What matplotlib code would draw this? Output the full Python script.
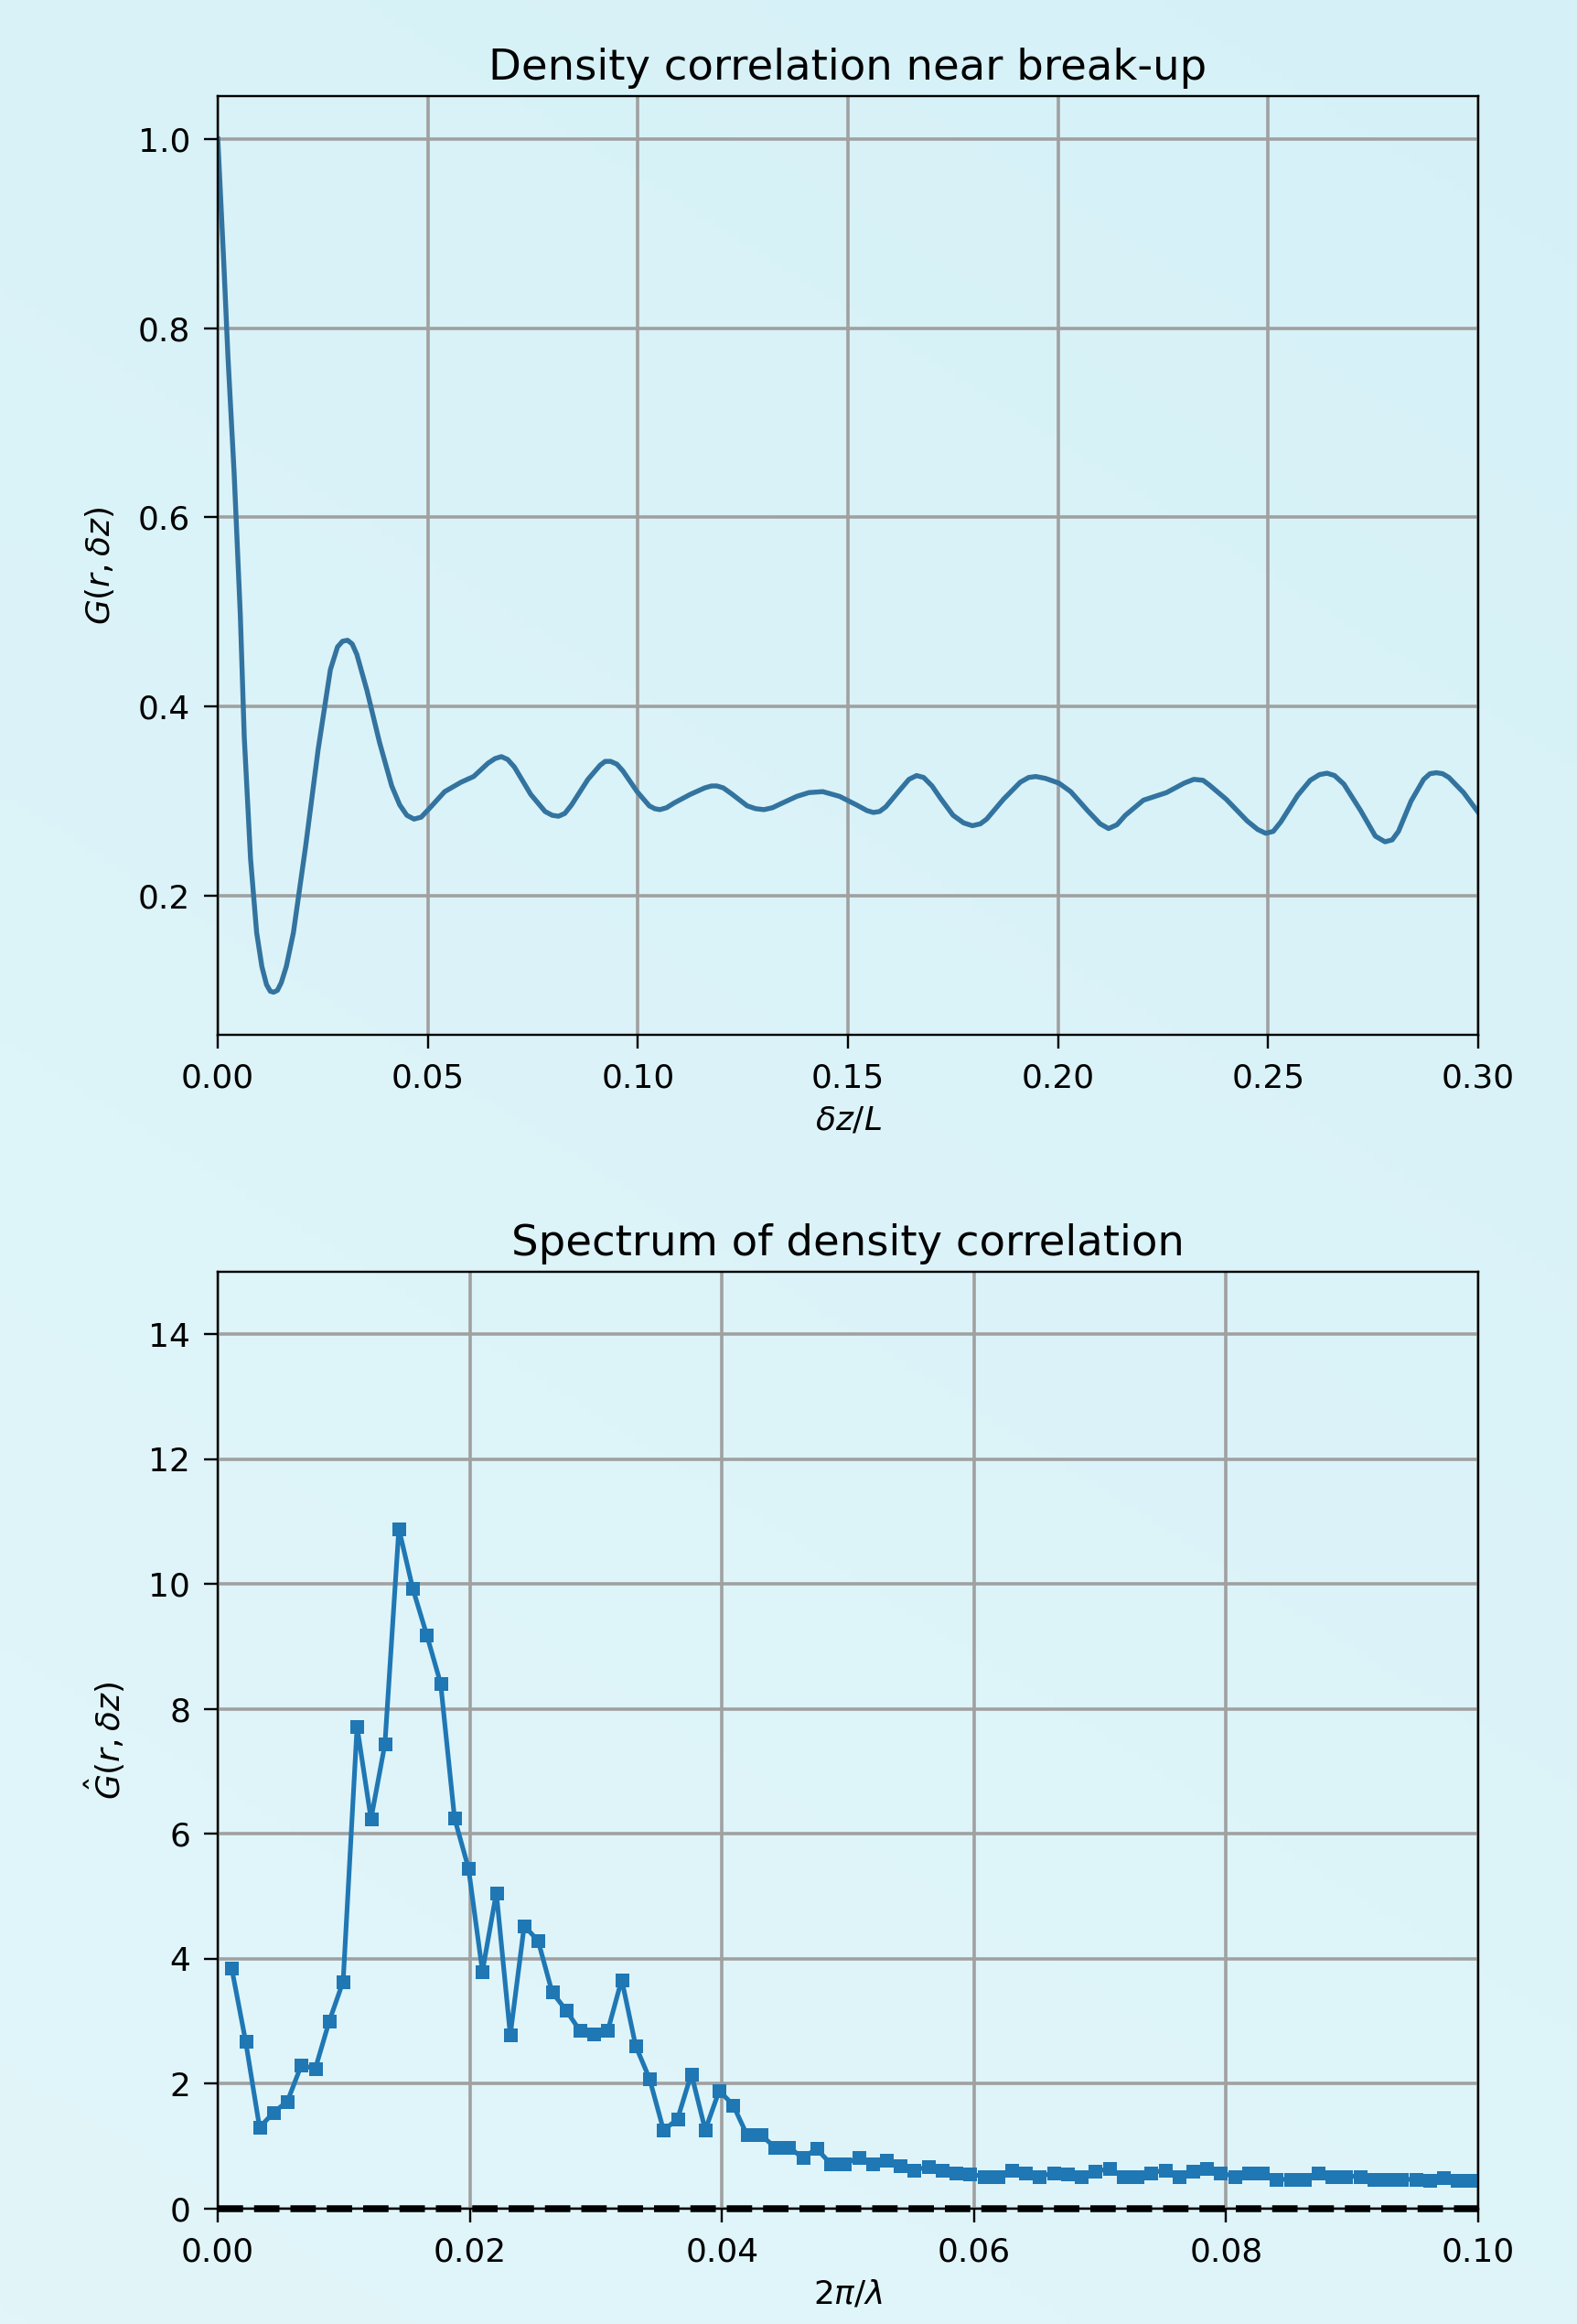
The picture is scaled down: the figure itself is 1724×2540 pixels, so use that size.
# Density correlation near break-up and its spectrum

import matplotlib
matplotlib.use("Agg")
import matplotlib.pyplot as plt
from matplotlib.colors import LinearSegmentedColormap
import numpy as np

# correlation G(r, dz)
dz = [0.0, 0.00146, 0.00243, 0.0039, 0.00536, 0.0063, 0.0078, 0.00925, 0.0105,
      0.0116, 0.0125, 0.0133, 0.0142, 0.0151, 0.0163, 0.018, 0.0209, 0.0239,
      0.0268, 0.0285, 0.0297, 0.0309, 0.0320, 0.0331, 0.0355, 0.0385, 0.0414,
      0.0433, 0.0450, 0.0467, 0.0484, 0.0501, 0.054, 0.0579, 0.0609, 0.0643,
      0.0660, 0.0675, 0.0690, 0.0706, 0.0745, 0.0779, 0.0796, 0.0811, 0.0826,
      0.0842, 0.0881, 0.091, 0.0922, 0.0935, 0.0950, 0.0964, 0.0998, 0.1027,
      0.1040, 0.1052, 0.1068, 0.1086, 0.1124, 0.1159, 0.1175, 0.1188, 0.1203,
      0.1222, 0.126, 0.128, 0.130, 0.1320, 0.1339, 0.1378, 0.1407, 0.144,
      0.148, 0.152, 0.1545, 0.156, 0.1575, 0.159, 0.162, 0.1645, 0.1663, 0.168,
      0.170, 0.172, 0.175, 0.1775, 0.1796, 0.1815, 0.183, 0.187, 0.191, 0.193,
      0.1947, 0.197, 0.2002, 0.203, 0.207, 0.2100, 0.212, 0.2140, 0.216,
      0.2203, 0.2258, 0.2300, 0.2323, 0.2345, 0.236, 0.240, 0.245, 0.2475,
      0.2494, 0.2512, 0.253, 0.257, 0.260, 0.2622, 0.264, 0.2658, 0.268, 0.272,
      0.2755, 0.2778, 0.2795, 0.281, 0.284, 0.287, 0.2885, 0.290, 0.2915,
      0.293, 0.2965, 0.300]
G = [1.0, 0.866, 0.769, 0.646, 0.497, 0.368, 0.239, 0.161, 0.125,
     0.106, 0.099, 0.098, 0.100, 0.108, 0.125, 0.161, 0.252, 0.355,
     0.439, 0.463, 0.469, 0.470, 0.466, 0.455, 0.417, 0.362, 0.316,
     0.296, 0.285, 0.281, 0.283, 0.291, 0.310, 0.320, 0.326, 0.340,
     0.345, 0.347, 0.344, 0.336, 0.307, 0.289, 0.285, 0.284, 0.287,
     0.296, 0.323, 0.338, 0.342, 0.342, 0.339, 0.332, 0.310, 0.295,
     0.292, 0.291, 0.293, 0.298, 0.307, 0.314, 0.316, 0.316, 0.314,
     0.308, 0.295, 0.292, 0.291, 0.293, 0.297, 0.305, 0.309, 0.310,
     0.305, 0.296, 0.290, 0.288, 0.289, 0.294, 0.310, 0.323, 0.327, 0.325,
     0.316, 0.303, 0.285, 0.277, 0.274, 0.276, 0.281, 0.302, 0.320, 0.325,
     0.326, 0.324, 0.319, 0.310, 0.290, 0.276, 0.271, 0.275, 0.285,
     0.301, 0.309, 0.319, 0.323, 0.322, 0.317, 0.302, 0.279, 0.270,
     0.266, 0.268, 0.278, 0.306, 0.322, 0.328, 0.3295, 0.327, 0.318, 0.290,
     0.263, 0.257, 0.259, 0.268, 0.300, 0.323, 0.329, 0.330, 0.329,
     0.325, 0.309, 0.288]

# spectrum: 90 wavenumbers, evenly spaced
k = np.arange(1, 91) * 0.001105
G_hat = [3.85, 2.68, 1.30, 1.54, 1.72, 2.30, 2.24, 3.00, 3.64, 7.72,
         6.24, 7.44, 10.89, 9.93, 9.19, 8.41, 6.25, 5.45, 3.80, 5.06,
         2.78, 4.53, 4.29, 3.47, 3.18, 2.85, 2.80, 2.85, 3.67, 2.61,
         2.08, 1.26, 1.43, 2.16, 1.26, 1.89, 1.66, 1.18, 1.18, 0.985,
         0.985, 0.815, 0.96, 0.72, 0.72, 0.815, 0.72, 0.77, 0.69, 0.62,
         0.67, 0.62, 0.57, 0.55, 0.52, 0.52, 0.62, 0.57, 0.52, 0.57,
         0.55, 0.52, 0.595, 0.64, 0.52, 0.52, 0.57, 0.62, 0.52, 0.595,
         0.64, 0.57, 0.52, 0.57, 0.57, 0.47, 0.47, 0.47, 0.57, 0.52,
         0.52, 0.52, 0.47, 0.47, 0.47, 0.47, 0.45, 0.50, 0.45, 0.45]

plt.rcParams.update({
    "font.size": 12,
    "xtick.major.size": 5, "ytick.major.size": 5,
    "xtick.major.pad": 5, "ytick.major.pad": 5,
})

fig = plt.figure(figsize=(1724 / 216, 2540 / 216), dpi=216)

# soft cyan backdrop behind both panels
bg = fig.add_axes([0, 0, 1, 1], zorder=-10)
cmap = LinearSegmentedColormap.from_list("bg", ["#d5f1f7", "#e2f6fa"])
grad = np.linspace(0, 1, 256).reshape(-1, 1) * 0.7 + np.linspace(0, 1, 256).reshape(1, -1)[:, ::-1] * 0.3
bg.imshow(grad, cmap=cmap, aspect="auto", extent=[0, 1, 0, 1], origin="upper")
bg.axis("off")

ax1 = fig.add_axes([0.1381, 0.5547, 0.7993, 0.4039])
ax2 = fig.add_axes([0.1381, 0.0496, 0.7993, 0.4031])
for ax in (ax1, ax2):
    ax.set_facecolor("none")
    ax.grid(True, color="#a0a0a0", linewidth=1.2)

ax1.plot(dz, G, color="#33739f", linewidth=1.8)
ax1.set_xlim(0, 0.3)
ax1.set_xlabel(r"$\delta z/L$")
ax1.set_ylabel(r"$G(r,\delta z)$", labelpad=8)
ax1.set_title("Density correlation near break-up", fontsize=15.5)

ax2.plot(k, G_hat, marker="s", markersize=4, color="#1f77b4", linewidth=1.7)
ax2.plot([0, 0.1], [0, 0], "k--", linewidth=2.5, clip_on=False)
ax2.set_xlim(0, 0.1)
ax2.set_ylim(0, 15)
ax2.set_xlabel(r"$2\pi/\lambda$")
ax2.set_ylabel(r"$\hat{G}(r,\delta z)$", labelpad=8)
ax2.set_title("Spectrum of density correlation", fontsize=15.5)

plt.savefig("out.png", dpi=216, facecolor=fig.get_facecolor())
